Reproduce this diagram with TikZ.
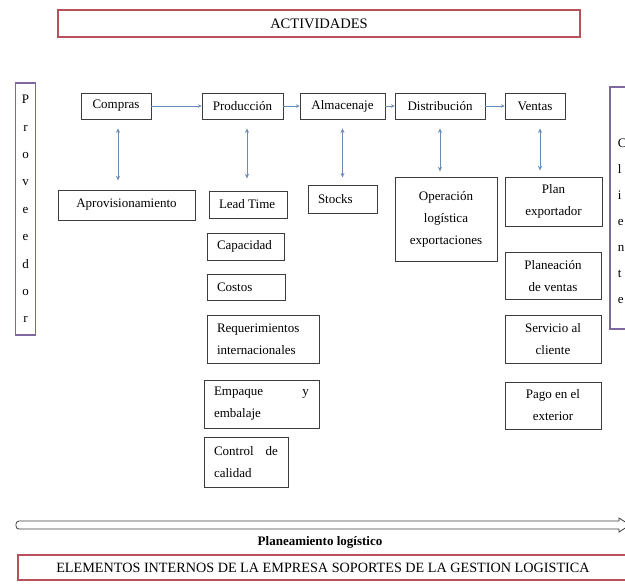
\documentclass[tikz,border=0pt]{standalone}
\usepackage{fontspec}
\setmainfont{Liberation Serif}
\usetikzlibrary{arrows.meta,calc}
\definecolor{ink}{RGB}{60,60,60}
\definecolor{rose}{RGB}{185,80,90}
\definecolor{lilac}{RGB}{125,105,160}
\definecolor{steel}{RGB}{105,140,180}
\tikzset{
  >={Stealth[length=4.5pt,width=4pt]},
  box/.style={draw=ink,line width=0.8pt,inner sep=0pt,
    font=\fontsize{13}{22}\selectfont,align=center},
  lbox/.style={box,align=flush left,inner xsep=10pt,text width=#1},
  frame/.style={draw=rose,line width=1.4pt,inner sep=0pt,
    font=\fontsize{#1}{16}\selectfont},
  frame/.default=14,
  side/.style={draw=lilac,line width=1.6pt,inner sep=0pt,
    font=\fontsize{13}{#1}\selectfont,align=center},
  flow/.style={-{Stealth[length=3.5pt,width=3.5pt]},draw=steel,line width=0.7pt},
  link/.style={<->,draw=steel,line width=0.9pt},
}
\begin{document}
\begin{tikzpicture}[x=1pt,y=-1pt]
  \useasboundingbox (0,0) rectangle (625,587);
  \clip (0,0) rectangle (625,587);
  \node[frame=14.5,minimum width=522pt,minimum height=27pt] (act) at (319,23.5) {ACTIVIDADES};
  \node[side=27.4,minimum width=20pt,minimum height=252pt] (prov) at (25.5,209) {P\\r\\o\\v\\e\\e\\d\\o\\r};
  \node[side=26,text width=24pt,inner xsep=8pt,minimum height=242pt,align=left,anchor=north west] (cli) at (609,86)
    {\vphantom{C}\\C\\l\\i\\e\\n\\t\\e};
  % activities
  \node[box,minimum width=70pt,minimum height=26pt] (compras) at (116,106) {Compras};
  \node[box,minimum width=81pt,minimum height=26pt] (prod) at (242.5,106) {Producción};
  \node[box,minimum width=85pt,minimum height=26pt] (alm) at (342.5,106) {Almacenaje};
  \node[box,minimum width=90pt,minimum height=26pt] (dist) at (440,106) {Distribución};
  \node[box,minimum width=60pt,minimum height=26pt] (ventas) at (535,106) {Ventas};
  \draw[flow] (compras) -- (prod); \draw[flow] (prod) -- (alm);
  \draw[flow] (alm) -- (dist); \draw[flow] (dist) -- (ventas);
  \foreach \n/\dx/\l in {compras/2/52,prod/4.5/50,alm/0/49,dist/0/43,ventas/5/42}
    \draw[link] ([xshift=\dx pt,yshift=-9pt]\n.south) -- ++(0,\l);
  % elements
  \node[box,minimum width=137pt,minimum height=30pt] (aprov) at (126.5,205) {Aprovisionamiento};
  \node[lbox=58pt,minimum height=27pt] (lead) at (248,204.5) {Lead Time};
  \node[lbox=57pt,minimum height=27pt] (cap) at (245.5,246.5) {Capacidad};
  \node[lbox=58pt,minimum height=26pt] (costos) at (246,287) {Costos};
  \node[lbox=92pt,minimum height=48pt] (req) at (263,339) {Requerimientos\\internacionales};
  \node[lbox=95pt,minimum height=48pt] (emp) at (261.5,404) {Empaque\hfill y\\embalaje};
  \node[lbox=64pt,minimum height=50pt] (ctrl) at (246,462) {Control\hfill de\\calidad};
  \node[lbox=49pt,minimum height=28pt] (stocks) at (342.5,199) {Stocks};
  \node[box,minimum width=102pt,minimum height=84pt] (oper) at (446,219) {Operación\\logística\\exportaciones};
  \node[box,minimum width=97pt,minimum height=49pt] (plan) at (553.5,201.5) {Plan\\exportador};
  \node[box,minimum width=96pt,minimum height=47pt] (planv) at (553,276) {Planeación\\de ventas};
  \node[box,minimum width=96pt,minimum height=48pt] (serv) at (553,339) {Servicio al\\cliente};
  \node[box,minimum width=96pt,minimum height=47pt] (pago) at (553,405.5) {Pago en el\\exterior};
  % planning bar
  \draw[ink,line width=0.8pt] (619,521) [rounded corners=3pt]-- (16,521) -- (16,529) [sharp corners]-- (619,529)
    -- (619,532) -- (630,525) -- (619,518) -- cycle;
  \node[font=\bfseries\fontsize{13}{15}\selectfont] (planlog) at (320,542) {Planeamiento logístico};
  \node[frame=14.2,minimum width=610pt,minimum height=25pt] (elem) at (323,567.5)
    {ELEMENTOS INTERNOS DE LA EMPRESA SOPORTES DE LA GESTION LOGISTICA};
\end{tikzpicture}
\end{document}
